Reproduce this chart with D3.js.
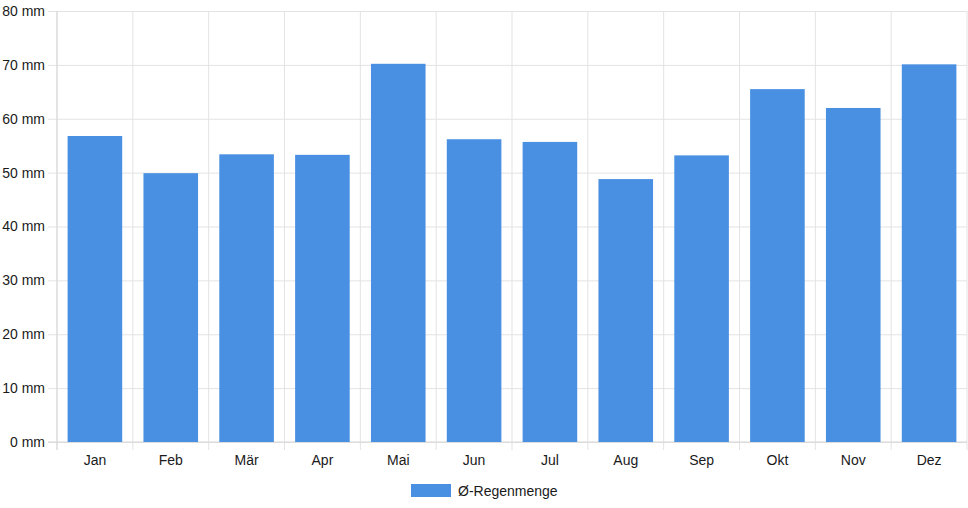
<html>
  <head>
    <script src="https://cdn.jsdelivr.net/npm/d3@7"></script>
    <style>
      * {
        margin: 0;
        padding: 0;
      }
      body {
        background-color: white;
        font-family: "Liberation Sans", Arial, sans-serif;
      }
      .tick text {
        font-size: 14px;
        fill: #1a1a1a;
      }
    </style>
  </head>
  <body>
    <div id="chart"></div>
    <script>
      const months = ["Jan", "Feb", "Mär", "Apr", "Mai", "Jun", "Jul", "Aug", "Sep", "Okt", "Nov", "Dez"];
      const rain = [56.8, 49.9, 53.4, 53.3, 70.2, 56.2, 55.7, 48.8, 53.2, 65.5, 62.0, 70.1];
      const yTicks = [0, 10, 20, 30, 40, 50, 60, 70, 80];
      const seriesName = "Ø-Regenmenge";

      const w = 968;
      const h = 508;
      const plotLeft = 57;
      const plotRight = 967;
      const plotTop = 11;
      const plotBottom = 442;
      const barColor = "#4a90e2";
      const gridColor = "#e3e3e3";

      const svg = d3
        .select("#chart")
        .append("svg")
        .attr("width", w)
        .attr("height", h);

      const xScale = d3
        .scaleBand()
        .domain(months)
        .range([plotLeft, plotRight])
        .paddingInner(0.28)
        .paddingOuter(0.14);

      const yScale = d3.scaleLinear().domain([0, 80]).range([plotBottom, plotTop]);

      // horizontal grid + y labels
      const yAxis = d3
        .axisLeft(yScale)
        .tickValues(yTicks)
        .tickSize(-(plotRight - plotLeft) - 9)
        .tickPadding(4)
        .tickFormat((d) => d + " mm");

      svg
        .append("g")
        .attr("transform", "translate(" + (plotLeft - 9) + ",0)")
        .call(yAxis)
        .call((g) => g.select(".domain").remove())
        .call((g) => g.selectAll(".tick line").attr("stroke", gridColor))
        .call((g) => g.selectAll(".tick text").attr("x", -3));

      // vertical grid lines at category boundaries
      const step = xScale.step();
      const bounds = d3.range(months.length + 1).map((i) => plotLeft + i * step);
      svg
        .append("g")
        .selectAll("line")
        .data(bounds)
        .enter()
        .append("line")
        .attr("x1", (d) => d)
        .attr("x2", (d) => d)
        .attr("y1", plotTop)
        .attr("y2", plotBottom + 8)
        .attr("stroke", gridColor);

      // x labels
      const xAxis = d3.axisBottom(xScale).tickSize(0).tickPadding(13);
      svg
        .append("g")
        .attr("transform", "translate(0," + plotBottom + ")")
        .call(xAxis)
        .call((g) => g.select(".domain").remove());

      // axis lines
      svg
        .append("line")
        .attr("x1", plotLeft)
        .attr("x2", plotLeft)
        .attr("y1", plotTop)
        .attr("y2", plotBottom + 8)
        .attr("stroke", "#d6d6d6");
      svg
        .append("line")
        .attr("x1", plotLeft - 9)
        .attr("x2", plotRight)
        .attr("y1", plotBottom)
        .attr("y2", plotBottom)
        .attr("stroke", "#d6d6d6");

      // bars
      svg
        .selectAll("rect.bar")
        .data(rain)
        .enter()
        .append("rect")
        .attr("class", "bar")
        .attr("x", (d, i) => xScale(months[i]))
        .attr("y", (d) => yScale(d))
        .attr("width", xScale.bandwidth())
        .attr("height", (d) => yScale(0) - yScale(d))
        .attr("fill", barColor);

      // legend
      const legend = svg.append("g").attr("transform", "translate(411,484)");
      legend
        .append("rect")
        .attr("width", 40)
        .attr("height", 13)
        .attr("fill", barColor);
      legend
        .append("text")
        .attr("x", 47)
        .attr("y", 11.5)
        .attr("font-size", 14)
        .attr("fill", "#1a1a1a")
        .text(seriesName);
    </script>
  </body>
</html>
